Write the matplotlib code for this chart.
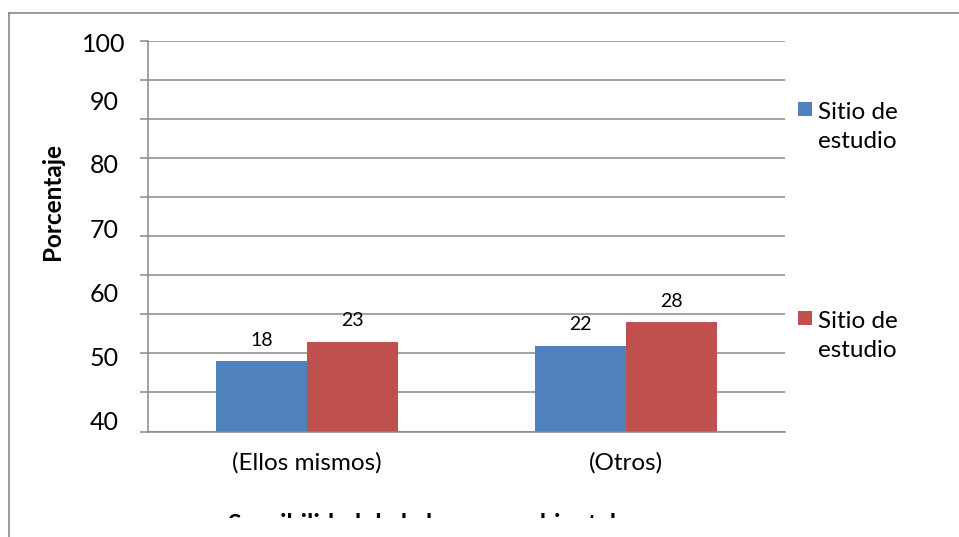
import matplotlib
matplotlib.use("Agg")
import matplotlib.pyplot as plt
from matplotlib.patches import Rectangle
from matplotlib.lines import Line2D
from matplotlib.transforms import Bbox, TransformedBbox

# ---- data ----
categories = ["(Ellos mismos)", "(Otros)"]
series_names = ["Sitio de\nestudio", "Sitio de\nestudio"]
series_a = [18, 22]
series_b = [23, 28]
y_tick_labels = ["100", "90", "80", "70", "60", "50", "40"]
y_title = "Porcentaje"
x_title = "Sensibilidad de la basura ambiental"

colors = ["#4F81BD", "#C0504D"]
grid_color = "#898989"
font = "Lato"

W, H = 959, 537
fig = plt.figure(figsize=(W / 100, H / 100), dpi=100)


def fx(px):
    return px / W


def fy(py):
    return 1 - py / H


# plot area
left, right, top, bottom = 148, 785, 40.7, 431.5
ax = fig.add_axes([fx(left), fy(bottom), fx(right - left), (bottom - top) / H])
ax.set_ylim(0, 100)
ax.set_xlim(-0.5, len(categories) - 0.5)
ax.set_axisbelow(True)

ax.set_yticks(range(0, 101, 10))
ax.yaxis.grid(True, color=grid_color, lw=1.1)
ax.tick_params(axis="y", length=5.8, width=1.1, color=grid_color, labelleft=False)
ax.tick_params(axis="x", length=0, pad=15, labelsize=17.5)
ax.set_xticks(range(len(categories)))
ax.set_xticklabels(categories, fontfamily=font)

for s in ["top", "right"]:
    ax.spines[s].set_visible(False)
for s in ["left", "bottom"]:
    ax.spines[s].set_color(grid_color)
    ax.spines[s].set_linewidth(1.1)

# bars
bw = 0.2857
x = list(range(len(categories)))
bars_a = ax.bar([i - bw / 2 for i in x], series_a, width=bw, color=colors[0], lw=0)
bars_b = ax.bar([i + bw / 2 for i in x], series_b, width=bw, color=colors[1], lw=0)
for bars, vals in ((bars_a, series_a), (bars_b, series_b)):
    for b, v in zip(bars, vals):
        ax.annotate(str(v), (b.get_x() + b.get_width() / 2, v), xytext=(0, 15),
                    textcoords="offset points", ha="center", va="center",
                    fontsize=14, fontfamily=font, color="#000000")

# left-side value labels
label_rows = [44, 102, 165, 230, 294, 358, 422]
for lab, py in zip(y_tick_labels, label_rows):
    fig.text(fx(104), fy(py), lab, ha="center", va="center",
             fontsize=18, fontfamily=font)

fig.text(fx(53), fy(201), y_title, rotation=90, ha="center", va="center",
         fontsize=17.5, fontweight="bold", fontfamily=font)

# axis title at the bottom (cut by the chart edge)
t = fig.text(fx(228), fy(513), x_title, ha="left", va="top",
             fontsize=18, fontweight="bold", fontfamily=font)
t.set_clip_box(TransformedBbox(Bbox.from_extents(0, fy(518), 1, 1), fig.transFigure))
t.set_clip_on(True)

# legend
legend_rows = [102, 311]
for name, col, py in zip(series_names, colors, legend_rows):
    fig.patches.append(Rectangle((fx(798), fy(py + 14)), 14 / W, 14 / H,
                                 transform=fig.transFigure, color=col, lw=0))
    fig.text(fx(818), fy(py), name, ha="left", va="top", fontsize=17.5,
             fontfamily=font, linespacing=1.47)

# chart frame
fig.add_artist(Line2D([fx(9), 1], [fy(12.5), fy(12.5)], color=grid_color, lw=1.2,
                      transform=fig.transFigure))
fig.add_artist(Line2D([fx(9), fx(9)], [fy(12.5), 0], color=grid_color, lw=1.2,
                      transform=fig.transFigure))

fig.savefig("out.png", dpi=100)
